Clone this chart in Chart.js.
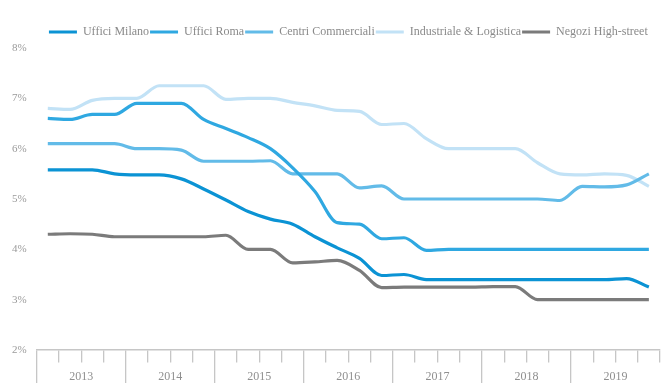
<!DOCTYPE html>
<html>
<head>
<meta charset="utf-8">
<script src="https://cdn.jsdelivr.net/npm/chart.js@4/dist/chart.umd.min.js"></script>
<style>
  html, body { margin: 0; padding: 0; background: #ffffff; }
  #wrap { width: 664px; height: 383px; position: relative; }
</style>
</head>
<body>
<div id="wrap"><canvas id="chart"></canvas></div>
<script>
// Prime yields by sector, quarterly 2013-2019 (%)
const years = ['2013', '2014', '2015', '2016', '2017', '2018', '2019'];
const quarterNames = ['T1', 'T2', 'T3', 'T4'];

const ufficiMilano = [5.58, 5.58, 5.58, 5.50, 5.48, 5.48, 5.40, 5.20, 4.98, 4.75, 4.60, 4.50, 4.25, 4.03,
                      3.82, 3.48, 3.50, 3.40, 3.40, 3.40, 3.40, 3.40, 3.40, 3.40, 3.40, 3.40, 3.42, 3.25];
const ufficiRoma = [6.60, 6.58, 6.68, 6.68, 6.90, 6.90, 6.90, 6.58, 6.40, 6.22, 6.00, 5.62, 5.15, 4.53,
                    4.50, 4.21, 4.23, 3.98, 4.00, 4.00, 4.00, 4.00, 4.00, 4.00, 4.00, 4.00, 4.00, 4.00];
const centriCommerciali = [6.10, 6.10, 6.10, 6.10, 6.00, 6.00, 5.97, 5.75, 5.75, 5.75, 5.76, 5.50, 5.50, 5.50,
                           5.22, 5.26, 5.00, 5.00, 5.00, 5.00, 5.00, 5.00, 5.00, 4.97, 5.25, 5.24, 5.28, 5.50];
const industrialeLogistica = [6.80, 6.78, 6.96, 7.00, 7.00, 7.25, 7.25, 7.25, 6.98, 7.00, 7.00, 6.92, 6.85, 6.76,
                              6.74, 6.48, 6.50, 6.20, 6.00, 6.00, 6.00, 6.00, 5.72, 5.50, 5.48, 5.50, 5.47, 5.25];
const negoziHighStreet = [4.30, 4.31, 4.30, 4.25, 4.25, 4.25, 4.25, 4.25, 4.28, 4.00, 4.00, 3.73, 3.75, 3.78,
                          3.58, 3.24, 3.25, 3.25, 3.25, 3.25, 3.26, 3.26, 3.00, 3.00, 3.00, 3.00, 3.00, 3.00];

const yTicks = [2, 3, 4, 5, 6, 7, 8];

// one category per quarter for the data and the tick marks
const quarters = years.flatMap(y => quarterNames.map(q => q + ' ' + y));

const serif = "'Liberation Serif', 'DejaVu Serif', serif";
const axisGrey = '#c6c6c6';
const textGrey = '#8a8a8a';

function series(label, data, color) {
  return {
    label, data,
    borderColor: color,
    backgroundColor: color,
    borderWidth: 3.2,
    pointRadius: 0,
    pointHoverRadius: 0,
    cubicInterpolationMode: 'monotone',
    xAxisID: 'x',
    yAxisID: 'y'
  };
}

const noSidePadding = axis => { axis.paddingLeft = 0; axis.paddingRight = 0; };

new Chart(document.getElementById('chart'), {
  type: 'line',
  data: {
    labels: quarters,
    datasets: [
      series('Uffici Milano', ufficiMilano, '#0b93d4'),
      series('Uffici Roma', ufficiRoma, '#2fa8e1'),
      series('Centri Commerciali', centriCommerciali, '#62bbe8'),
      series('Industriale & Logistica', industrialeLogistica, '#c2e2f6'),
      series('Negozi High-street', negoziHighStreet, '#7b7b7b')
    ]
  },
  options: {
    responsive: true,
    maintainAspectRatio: false,
    animation: false,
    layout: { padding: { left: 2, right: 4, top: 25, bottom: 0 } },
    plugins: {
      tooltip: { enabled: false },
      legend: {
        position: 'top',
        fullSize: false,
        labels: {
          usePointStyle: true,
          pointStyle: 'line',
          pointStyleWidth: 28,
          padding: 1,
          color: textGrey,
          font: { family: serif, size: 12 }
        }
      }
    },
    scales: {
      y: {
        min: 2,
        max: 8,
        afterBuildTicks: axis => { axis.ticks = yTicks.map(v => ({ value: v })); },
        afterFit: axis => { axis.paddingTop = 0; axis.paddingBottom = 0; },
        grid: { display: false, drawTicks: false, tickLength: 0 },
        border: { display: false },
        ticks: {
          padding: 10,
          color: '#9a9a9a',
          font: { family: serif, size: 11 },
          callback: v => v + '%'
        }
      },
      // quarter axis: base line, short quarter marks, long year separators
      x: {
        type: 'category',
        position: 'bottom',
        offset: true,
        afterFit: noSidePadding,
        grid: {
          offset: true,
          drawOnChartArea: false,
          drawTicks: true,
          tickLength: 33,
          color: axisGrey,
          lineWidth: 1.3,
          tickBorderDash: ctx => (ctx.index % 4 === 0 ? [] : [12, 60])
        },
        border: { display: true, color: axisGrey, width: 1.5 },
        ticks: { display: false }
      },
      // year names, centred in each group of four quarters
      x2: {
        type: 'category',
        axis: 'x',
        labels: years,
        position: { y: 2 },
        offset: true,
        afterFit: noSidePadding,
        grid: { display: false, drawTicks: false, tickLength: 0 },
        border: { display: false },
        ticks: {
          padding: 20,
          maxRotation: 0,
          minRotation: 0,
          autoSkip: false,
          color: '#8f8f8f',
          font: { family: serif, size: 12 }
        }
      }
    }
  }
});
</script>
</body>
</html>
